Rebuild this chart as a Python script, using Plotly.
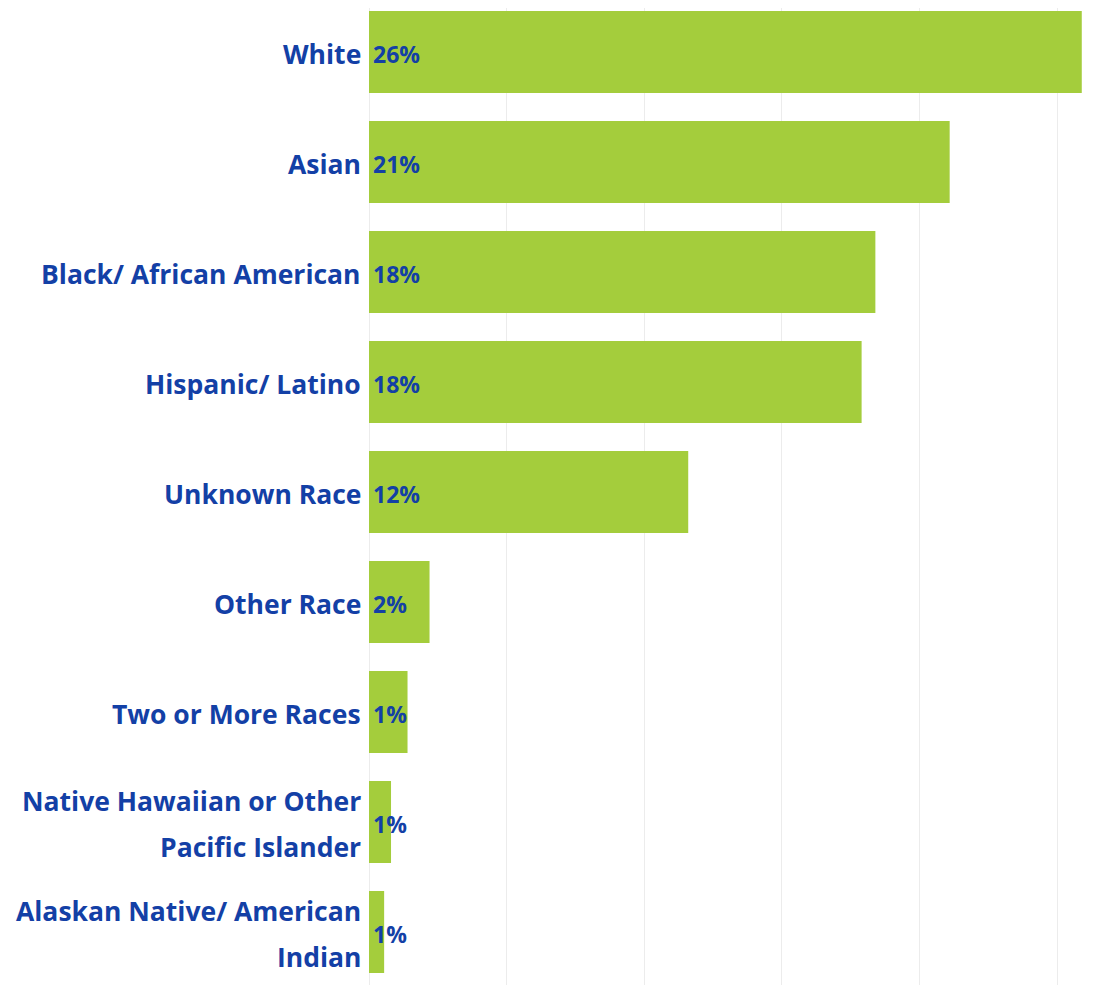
import plotly.graph_objects as go

categories = [
    "White",
    "Asian",
    "Black/ African American",
    "Hispanic/ Latino",
    "Unknown Race",
    "Other Race",
    "Two or More Races",
    "Native Hawaiian or Other\nPacific Islander",
    "Alaskan Native/ American\nIndian",
]
values = [25.9, 21.1, 18.4, 17.9, 11.6, 2.2, 1.4, 0.8, 0.55]
value_labels = ["26%", "21%", "18%", "18%", "12%", "2%", "1%", "1%", "1%"]

BAR = "#a4cd3c"
BLUE = "#1340a6"
FONT = "Open Sans"

fig = go.Figure()
fig.add_trace(go.Bar(
    y=categories,
    x=values,
    orientation="h",
    marker=dict(color=BAR, line=dict(width=0)),
    hoverinfo="skip",
))

annotations = []
for cat, lab in zip(categories, value_labels):
    annotations.append(dict(
        x=0, y=cat, xref="x", yref="y", text=lab, showarrow=False,
        xanchor="left", xshift=2, yshift=-2,
        font=dict(family=FONT, size=23, color=BLUE, weight="bold"),
    ))
    lines = cat.split("\n")
    n = len(lines)
    for i, line in enumerate(lines):
        annotations.append(dict(
            x=0, y=cat, xref="paper", yref="y", text=line, showarrow=False,
            xanchor="right", xshift=-6, yshift=(n - 1) * 23 - i * 46 - 2,
            font=dict(family=FONT, size=26.5, color=BLUE, weight="bold"),
        ))

fig.update_layout(
    width=1120, height=985,
    margin=dict(l=361, r=0, t=0, b=0),
    plot_bgcolor="white", paper_bgcolor="white",
    bargap=0.255,
    showlegend=False,
    annotations=annotations,
    xaxis=dict(range=[0, 27.58], dtick=5, tick0=0, showticklabels=False,
               showgrid=True, gridcolor="#ececec", gridwidth=1,
               zeroline=True, zerolinecolor="#ececec", zerolinewidth=1,
               showline=False, fixedrange=True),
    yaxis=dict(categoryorder="array", categoryarray=categories,
               range=[8.555, -0.4], showticklabels=False, showgrid=False,
               zeroline=False, showline=False),
)

fig.write_html("out.html")
